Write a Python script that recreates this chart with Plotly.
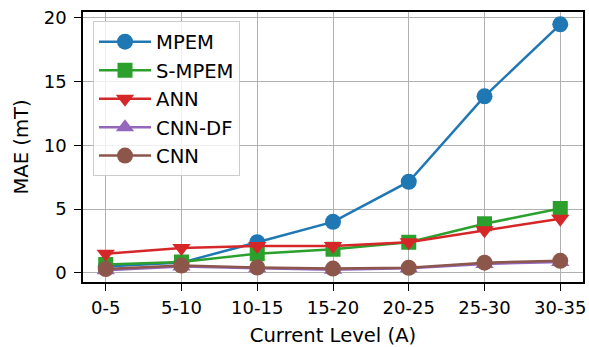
import plotly.graph_objects as go

categories = ["0-5", "5-10", "10-15", "15-20", "20-25", "25-30", "30-35"]
mpem = [0.5, 0.8, 2.4, 4.0, 7.15, 13.85, 19.5]
s_mpem = [0.65, 0.85, 1.5, 1.85, 2.4, 3.85, 5.05]
ann = [1.5, 1.95, 2.1, 2.1, 2.4, 3.35, 4.25]
cnn_df = [0.2, 0.5, 0.35, 0.25, 0.35, 0.7, 0.85]
cnn = [0.3, 0.57, 0.42, 0.33, 0.4, 0.8, 0.94]

series = [
    ("MPEM", mpem, "#1f77b4", "circle"),
    ("S-MPEM", s_mpem, "#2ca02c", "square"),
    ("ANN", ann, "#d62728", "triangle-down"),
    ("CNN-DF", cnn_df, "#9467bd", "triangle-up"),
    ("CNN", cnn, "#8c564b", "circle"),
]

fig = go.Figure()
x = list(range(len(categories)))
for name, vals, color, sym in series:
    size = 15 if sym == "square" else 16
    fig.add_trace(go.Scatter(
        x=x, y=vals, name=name, mode="lines+markers",
        line=dict(color=color, width=2.5),
        marker=dict(symbol=sym, size=size, color=color),
    ))

TICK_FS = 18
LABEL_FS = 19.6
FONT = "DejaVu Sans"
axis_common = dict(
    showline=True, linecolor="black", linewidth=1.5, mirror=True,
    ticks="outside", ticklen=7, tickwidth=1.3, tickcolor="black",
    showgrid=True, gridcolor="#b0b0b0", gridwidth=1, zeroline=False,
    tickfont=dict(size=TICK_FS, color="black", family=FONT),
    automargin=False,
)

fig.update_xaxes(
    tickmode="array", tickvals=x, ticktext=categories,
    range=[-0.3, 6.3], ticklabelstandoff=2,
    title=dict(text="Current Level (A)", font=dict(size=LABEL_FS, color="black", family=FONT), standoff=17),
    **axis_common,
)
fig.update_yaxes(
    range=[-0.72, 20.47], tickvals=[0, 5, 10, 15, 20], ticklabelstandoff=4,
    title=dict(text="MAE (mT)", font=dict(size=LABEL_FS, color="black", family=FONT), standoff=10),
    **axis_common,
)

fig.update_layout(
    width=589, height=347,
    margin=dict(l=83, r=6, t=12, b=65),
    plot_bgcolor="white", paper_bgcolor="white",
    font=dict(family=FONT, color="black"),
    legend=dict(
        x=0.02, y=0.965, xanchor="left", yanchor="top",
        bgcolor="rgba(255,255,255,0.8)", bordercolor="#cccccc", borderwidth=1,
        font=dict(size=LABEL_FS, color="black", family=FONT),
        itemwidth=52,
    ),
)

fig.write_html("out.html")
